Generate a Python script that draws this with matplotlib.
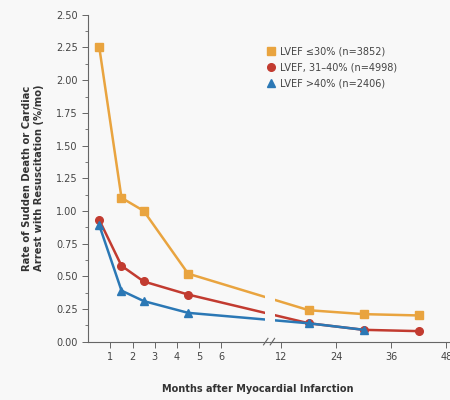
import matplotlib
matplotlib.use("Agg")
import matplotlib.pyplot as plt
import numpy as np

# 月数と各群の発生率 (%/月)
months = [0.5, 1.5, 2.5, 4.5, 18, 30, 42]
lvef_low = [2.25, 1.10, 1.00, 0.52, 0.24, 0.21, 0.20]
lvef_mid = [0.93, 0.58, 0.46, 0.36, 0.14, 0.09, 0.08]
blue_months = [0.5, 1.5, 2.5, 4.5, 18, 30]
lvef_high = [0.89, 0.39, 0.31, 0.22, 0.14, 0.09]

tick_months = [1, 2, 3, 4, 5, 6, 12, 24, 36, 48]
labels = ["LVEF \u226430% (n=3852)", "LVEF, 31\u201340% (n=4998)", "LVEF >40% (n=2406)"]


# 横軸: 0-8ヶ月は等倍, 12ヶ月以降は圧縮
def pos(m):
    m = np.asarray(m, dtype=float)
    return np.where(m <= 8, m, 8.7 + (m - 12) * 2.48 / 12)


bg = "#f8f8f8"
fig = plt.figure(figsize=(4.5, 4.0), dpi=100, facecolor=bg)
ax = fig.add_axes([0.196, 0.146, 0.804, 0.817], facecolor=bg)

ax.plot(pos(months), lvef_low, color="#E9A43F", marker="s", ms=5.5, lw=1.8, label=labels[0])
ax.plot(pos(months), lvef_mid, color="#C23B30", marker="o", ms=5.5, lw=1.8, label=labels[1])
ax.plot(pos(blue_months), lvef_high, color="#2B78B5", marker="^", ms=5.5, lw=1.8, label=labels[2])

# 軸の切れ目
ax.axvspan(7.95, 8.4, ymin=0.004, color=bg, zorder=3, lw=0)
for xb in (8.0, 8.3):
    ax.plot([xb - 0.1, xb + 0.1], [-0.025, 0.025], color="#666666", lw=0.8, zorder=4, clip_on=False)

ax.set_xlim(0, 16.3)
ax.set_ylim(0, 2.5)
ax.set_xticks(pos(tick_months))
ax.set_xticklabels([str(t) for t in tick_months])
ax.set_yticks(np.arange(0, 2.51, 0.25))
ax.set_yticklabels(["%.2f" % v for v in np.arange(0, 2.51, 0.25)])
ax.set_yticks(np.arange(0, 2.5, 0.125), minor=True)

for s in ("top", "right"):
    ax.spines[s].set_visible(False)
for s in ("left", "bottom"):
    ax.spines[s].set_color("#666666")
    ax.spines[s].set_linewidth(0.8)
ax.tick_params(axis="both", colors="#666666", labelcolor="#444444", labelsize=7, length=4, width=0.7)
ax.tick_params(axis="y", which="minor", length=2.5, width=0.6, colors="#666666")

ax.set_ylabel("Rate of Sudden Death or Cardiac\nArrest with Resuscitation (%/mo)",
              fontsize=7.2, fontweight="bold", color="#333333", labelpad=9, linespacing=1.25)
fig.text(0.572, 0.02, "Months after Myocardial Infarction", ha="center",
         fontsize=7, fontweight="bold", color="#333333")

leg = ax.legend(loc="upper left", bbox_to_anchor=(0.47, 0.93), frameon=False,
                fontsize=7, handlelength=0.8, handletextpad=0.5, labelspacing=0.6)
for line in leg.get_lines():
    line.set_linestyle("none")
for t in leg.get_texts():
    t.set_color("#444444")

fig.savefig("out.png", dpi=100, facecolor=bg)
